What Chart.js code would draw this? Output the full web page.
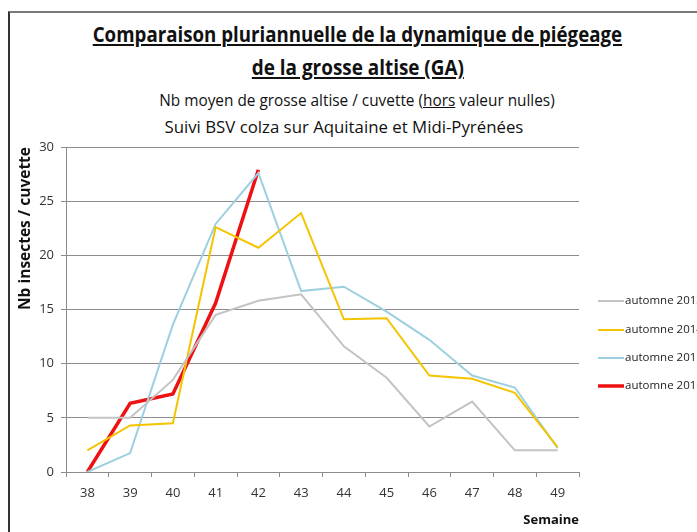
<!DOCTYPE html>
<html>
<head>
<meta charset="utf-8">
<script src="https://cdn.jsdelivr.net/npm/chart.js@4.4.1/dist/chart.umd.min.js"></script>
<style>
    html, body { margin: 0; padding: 0; background: #ffffff; overflow: hidden; }
    #wrap { position: relative; width: 697px; height: 532px; }
    #frame { position: absolute; left: 8px; top: 11px; right: -4px; bottom: -4px;
             border-top: 2px solid #7a7a7a; border-left: 2px solid #333333; }
    .t { position: absolute; width: 600px; text-align: center; color: #111;
         font-family: "Open Sans", sans-serif; white-space: nowrap; }
    .t span { display: inline-block; }
    #t1 { left: 57px; top: 20px; font-size: 21px; font-weight: bold; }
    #t1 span { transform: scaleX(0.89); text-decoration: underline; }
    #t2 { left: 58px; top: 53px; font-size: 21px; font-weight: bold; }
    #t2 span { transform: scaleX(0.9); text-decoration: underline; }
    #t3 { left: 57px; top: 89px; font-size: 16px; }
    #t3 span { transform: scaleX(0.96); }
    #t4 { left: 44px; top: 116px; font-size: 16px; }
    #t4 span { transform: scaleX(1.05); }
    canvas { position: absolute; left: 0; top: 0; }
</style>
</head>
<body>
<div id="wrap">
    <div id="frame"></div>
    <div class="t" id="t1"><span>Comparaison pluriannuelle de la dynamique de piégeage</span></div>
    <div class="t" id="t2"><span>de la grosse altise (GA)</span></div>
    <div class="t" id="t3"><span>Nb moyen de grosse altise / cuvette (<u>hors</u> valeur nulles)</span></div>
    <div class="t" id="t4"><span>Suivi BSV colza sur Aquitaine et Midi-Pyrénées</span></div>
    <canvas id="chart" width="697" height="532"></canvas>
</div>
<script>
// semaines
var weeks = ["38", "39", "40", "41", "42", "43", "44", "45", "46", "47", "48", "49"];

// Nb moyen de grosse altise / cuvette
var autumn2013 = [5.0, 5.0, 8.5, 14.5, 15.8, 16.4, 11.6, 8.7, 4.2, 6.5, 2.0, 2.0];
var autumn2014 = [2.0, 4.3, 4.5, 22.6, 20.7, 23.9, 14.1, 14.2, 8.9, 8.6, 7.3, 2.3];
var autumn2015 = [0.0, 1.75, 13.6, 22.9, 27.6, 16.7, 17.1, 14.8, 12.2, 8.9, 7.8, 2.2];
var autumn2016 = [0.0, 6.35, 7.2, 15.6, 27.9, null, null, null, null, null, null, null];

var seriesNames = ["automne 2013", "automne 2014", "automne 2015", "automne 2016"];
var yTicks = [0, 5, 10, 15, 20, 25, 30];

var font = "'Open Sans', sans-serif";

function line(label, values, colour, width) {
    return {
        label: label,
        data: values,
        borderColor: colour,
        backgroundColor: colour,
        borderWidth: width,
        pointRadius: 0,
        tension: 0,
        fill: false,
        spanGaps: false
    };
}

// legend at the right, partly cut by the page edge like the original
var sideLegend = {
    id: "sideLegend",
    afterDraw: function (chart) {
        var ctx = chart.ctx;
        var rows = [301, 330, 358, 386];
        ctx.save();
        chart.data.datasets.forEach(function (ds, i) {
            ctx.strokeStyle = ds.borderColor;
            ctx.lineWidth = ds.borderWidth;
            ctx.beginPath();
            ctx.moveTo(598, rows[i]);
            ctx.lineTo(624, rows[i]);
            ctx.stroke();
            ctx.fillStyle = "#222";
            ctx.font = "11.5px " + font;
            ctx.textBaseline = "middle";
            ctx.fillText(ds.label, 625, rows[i]);
        });
        ctx.restore();
    }
};

new Chart(document.getElementById("chart"), {
    type: "line",
    data: {
        labels: weeks,
        datasets: [
            line(seriesNames[0], autumn2013, "#c3c3c3", 2),
            line(seriesNames[1], autumn2014, "#f5c400", 2),
            line(seriesNames[2], autumn2015, "#9dcfdf", 2),
            line(seriesNames[3], autumn2016, "#ee1111", 3.5)
        ]
    },
    options: {
        responsive: false,
        animation: false,
        layout: { padding: { left: 12, right: 118, top: 147, bottom: 0 } },
        plugins: {
            legend: { display: false },
            tooltip: { enabled: false },
            title: { display: false }
        },
        scales: {
            x: {
                offset: true,
                grid: { display: true, drawOnChartArea: false, offset: true, color: "#8c8c8c", tickLength: 5 },
                border: { color: "#8c8c8c" },
                ticks: { color: "#333", font: { family: font, size: 13 }, padding: 8 },
                title: { display: true, text: "Semaine", align: "end", color: "#111",
                         font: { family: font, size: 13, weight: "bold" }, padding: { top: 13, right: 6 } },
                afterFit: function (scale) { scale.height = 60; }
            },
            y: {
                min: 0,
                max: 30,
                afterBuildTicks: function (scale) {
                    scale.ticks = yTicks.map(function (v) { return { value: v }; });
                },
                grid: { color: "#8c8c8c", tickLength: 5 },
                border: { color: "#8c8c8c" },
                ticks: { color: "#333", font: { family: font, size: 13 }, padding: 7 },
                title: { display: true, text: "Nb insectes / cuvette", align: "end", color: "#111",
                         font: { family: font, size: 15.5, weight: "bold" }, padding: { bottom: 12 } },
                afterFit: function (scale) { scale.width = 54; }
            }
        }
    },
    plugins: [sideLegend]
});
</script>
</body>
</html>
